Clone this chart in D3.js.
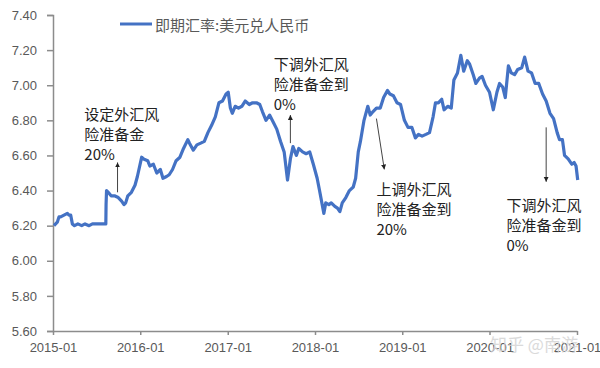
<!DOCTYPE html>
<html>
<head>
<meta charset="utf-8">
<script src="https://cdn.jsdelivr.net/npm/d3@7"></script>
<style>
  body { margin: 0; background: #fff; }
  svg text { font-family: "Liberation Sans", "Noto Sans CJK SC", sans-serif; }
  .cjk { font-family: "Noto Sans CJK SC", sans-serif; }
</style>
</head>
<body>
<div id="chart"></div>
<script>
// 即期汇率: 美元兑人民币
const dates = [
  "2015-01-05","2015-01-12","2015-01-19","2015-01-26","2015-02-02","2015-02-16","2015-03-02","2015-03-09","2015-03-16","2015-03-23",
  "2015-04-01","2015-04-15","2015-05-01","2015-05-15","2015-06-01","2015-06-15","2015-07-01","2015-07-15","2015-08-03","2015-08-10",
  "2015-08-11","2015-08-13","2015-08-20","2015-09-01","2015-09-15","2015-10-01","2015-10-15","2015-10-25","2015-11-01","2015-11-10",
  "2015-11-25","2015-12-10","2015-12-20","2016-01-07","2016-01-15","2016-02-01","2016-02-10","2016-02-25","2016-03-10","2016-03-25",
  "2016-04-05","2016-04-20","2016-05-01","2016-05-15","2016-05-30","2016-06-15","2016-06-30","2016-07-18","2016-07-25","2016-08-10",
  "2016-08-25","2016-09-10","2016-09-25","2016-10-10","2016-10-25","2016-11-10","2016-11-25","2016-12-10","2016-12-25","2017-01-03",
  "2017-01-12","2017-01-20","2017-02-01","2017-02-15","2017-03-01","2017-03-15","2017-04-01","2017-04-15","2017-05-01","2017-05-15",
  "2017-05-26","2017-06-10","2017-06-25","2017-07-10","2017-07-25","2017-08-10","2017-08-25","2017-09-08","2017-09-20","2017-10-01",
  "2017-10-15","2017-10-25","2017-11-10","2017-11-25","2017-12-10","2017-12-25","2018-01-10","2018-01-20","2018-02-07","2018-02-15",
  "2018-02-28","2018-03-10","2018-03-25","2018-04-05","2018-04-15","2018-04-25","2018-05-10","2018-05-25","2018-06-10","2018-06-20",
  "2018-07-01","2018-07-10","2018-07-25","2018-08-10","2018-08-20","2018-09-01","2018-09-15","2018-10-01","2018-10-15","2018-10-31",
  "2018-11-10","2018-11-25","2018-12-10","2018-12-25","2019-01-10","2019-01-25","2019-02-10","2019-02-25","2019-03-10","2019-03-25",
  "2019-04-10","2019-04-25","2019-05-10","2019-05-20","2019-06-01","2019-06-15","2019-06-25","2019-07-10","2019-07-25","2019-08-05",
  "2019-08-20","2019-09-03","2019-09-15","2019-09-30","2019-10-10","2019-10-25","2019-11-05","2019-11-20","2019-12-01","2019-12-15",
  "2020-01-01","2020-01-17","2020-02-01","2020-02-12","2020-02-25","2020-03-07","2020-03-20","2020-04-01","2020-04-15","2020-04-28",
  "2020-05-15","2020-05-27","2020-06-10","2020-06-25","2020-07-10","2020-07-25","2020-08-10","2020-08-25","2020-09-10","2020-09-25",
  "2020-10-10","2020-10-20","2020-11-01","2020-11-10","2020-11-25","2020-12-10","2020-12-20","2020-12-28","2021-01-04"
];
const rates = [
  6.20,6.21,6.22,6.25,6.25,6.26,6.27,6.26,6.26,6.21,
  6.20,6.21,6.20,6.21,6.20,6.21,6.21,6.21,6.21,6.21,
  6.32,6.40,6.39,6.37,6.37,6.36,6.34,6.32,6.33,6.37,
  6.39,6.43,6.48,6.59,6.58,6.57,6.54,6.55,6.50,6.52,
  6.47,6.48,6.49,6.52,6.57,6.59,6.64,6.69,6.67,6.63,
  6.66,6.67,6.68,6.73,6.77,6.82,6.90,6.91,6.95,6.96,
  6.87,6.84,6.88,6.87,6.88,6.91,6.89,6.90,6.90,6.89,
  6.85,6.80,6.83,6.79,6.75,6.68,6.62,6.46,6.58,6.65,
  6.60,6.64,6.62,6.61,6.62,6.55,6.47,6.40,6.27,6.33,
  6.32,6.33,6.31,6.30,6.28,6.33,6.36,6.40,6.42,6.47,
  6.62,6.68,6.80,6.88,6.83,6.85,6.87,6.87,6.93,6.97,
  6.95,6.94,6.90,6.89,6.80,6.76,6.76,6.70,6.72,6.71,
  6.72,6.73,6.82,6.90,6.90,6.92,6.86,6.88,6.87,7.03,
  7.07,7.17,7.08,7.14,7.12,7.06,7.01,7.04,7.05,7.00,
  6.96,6.86,6.96,7.01,6.99,6.93,7.11,7.07,7.06,7.09,
  7.10,7.16,7.08,7.07,7.01,7.01,6.95,6.91,6.84,6.81,
  6.73,6.69,6.69,6.60,6.58,6.55,6.56,6.54,6.46
];
const seriesName = "即期汇率:美元兑人民币";
const yTicks = [5.60,5.80,6.00,6.20,6.40,6.60,6.80,7.00,7.20,7.40];
const xTickDates = ["2015-01","2016-01","2017-01","2018-01","2019-01","2020-01","2021-01"];

// annotations: text lines, text anchor (date, value), arrow (date/value start -> end)
const noteLines = [
  ["设定外汇风", "险准备金", "20%"],
  ["下调外汇风", "险准备金到", "0%"],
  ["上调外汇风", "险准备金到", "20%"],
  ["下调外汇风", "险准备金到", "0%"]
];
const noteTextAt = [["2015-05-12", 6.84], ["2017-07-12", 7.125], ["2018-09-15", 6.41], ["2020-03-12", 6.32]];
const noteArrows = [
  [["2015-09-28", 6.39], ["2015-09-28", 6.56]],
  [["2017-09-20", 6.67], ["2017-09-20", 6.83]],
  [["2018-09-15", 6.81], ["2018-10-18", 6.52]],
  [["2020-08-25", 6.76], ["2020-08-25", 6.45]]
];

const width = 600, height = 368;
const margin = { top: 15, right: 23, bottom: 37, left: 53 };
const parse = d3.timeParse("%Y-%m-%d");
const parseM = d3.timeParse("%Y-%m");
const data = dates.map((d, i) => ({ date: parse(d), value: rates[i] }));

const x = d3.scaleTime()
  .domain([parseM("2015-01"), parseM("2021-01")])
  .range([margin.left, width - margin.right]);
const y = d3.scaleLinear()
  .domain([5.6, 7.4])
  .range([height - margin.bottom, margin.top]);

const svg = d3.select('#chart').append('svg')
  .attr('width', width).attr('height', height);

const axisColor = '#8c8c8c';
const labelColor = '#595959';

const yAxis = svg.append('g')
  .attr('transform', `translate(${margin.left},0)`)
  .call(d3.axisLeft(y).tickValues(yTicks).tickFormat(d3.format('.2f')).tickSize(6).tickPadding(10));
yAxis.select('.domain').attr('stroke', axisColor).attr('stroke-width', 1.5);
yAxis.selectAll('.tick line').attr('stroke', axisColor).attr('stroke-width', 1.5);
yAxis.selectAll('.tick text').attr('fill', labelColor).style('font-size', '13px');

const xAxis = svg.append('g')
  .attr('transform', `translate(0,${height - margin.bottom})`)
  .call(d3.axisBottom(x).tickValues(xTickDates.map(parseM)).tickFormat(d3.timeFormat('%Y-%m')).tickSize(4).tickPadding(8).tickSizeOuter(0));
xAxis.select('.domain').attr('stroke', axisColor).attr('stroke-width', 1.5);
xAxis.selectAll('.tick line').attr('stroke', axisColor).attr('stroke-width', 1.5);
xAxis.selectAll('.tick text').attr('fill', labelColor).style('font-size', '13px');

const line = d3.line()
  .x(d => x(d.date))
  .y(d => y(d.value));

svg.append('path')
  .datum(data)
  .attr('fill', 'none')
  .attr('stroke', '#4472C4')
  .attr('stroke-width', 3.2)
  .attr('stroke-linejoin', 'round')
  .attr('d', line);

// legend
svg.append('line')
  .attr('x1', 120).attr('x2', 152).attr('y1', 24).attr('y2', 24)
  .attr('stroke', '#4472C4').attr('stroke-width', 3);
svg.append('text')
  .attr('class', 'cjk')
  .attr('x', 155).attr('y', 24)
  .attr('dominant-baseline', 'central')
  .attr('fill', labelColor)
  .style('font-size', '15px')
  .text(seriesName);

// arrows
svg.append('defs').append('marker')
  .attr('id', 'arrow')
  .attr('viewBox', '0 0 10 10')
  .attr('refX', 10).attr('refY', 5)
  .attr('markerWidth', 5).attr('markerHeight', 6)
  .attr('orient', 'auto')
  .append('path').attr('d', 'M0,0 L10,5 L0,10 z').attr('fill', '#222');

svg.selectAll('.note-arrow')
  .data(noteArrows)
  .enter().append('line')
  .attr('class', 'note-arrow')
  .attr('x1', d => x(parse(d[0][0]))).attr('y1', d => y(d[0][1]))
  .attr('x2', d => x(parse(d[1][0]))).attr('y2', d => y(d[1][1]))
  .attr('stroke', '#444').attr('stroke-width', 1)
  .attr('marker-end', 'url(#arrow)');

noteLines.forEach((lines, i) => {
  const tx = x(parse(noteTextAt[i][0]));
  const ty = y(noteTextAt[i][1]);
  const t = svg.append('text')
    .attr('class', 'cjk')
    .attr('fill', '#222')
    .style('font-size', '15px');
  lines.forEach((s, j) => {
    t.append('tspan')
      .attr('x', tx)
      .attr('y', ty + j * 20)
      .attr('dominant-baseline', 'central')
      .text(s);
  });
});

// watermark
svg.append('text')
  .attr('class', 'cjk')
  .attr('x', 490).attr('y', 343)
  .attr('dominant-baseline', 'central')
  .attr('fill', '#d4d4d4')
  .attr('opacity', 0.85)
  .style('font-size', '17px')
  .text('知乎 @南游');
</script>
</body>
</html>
